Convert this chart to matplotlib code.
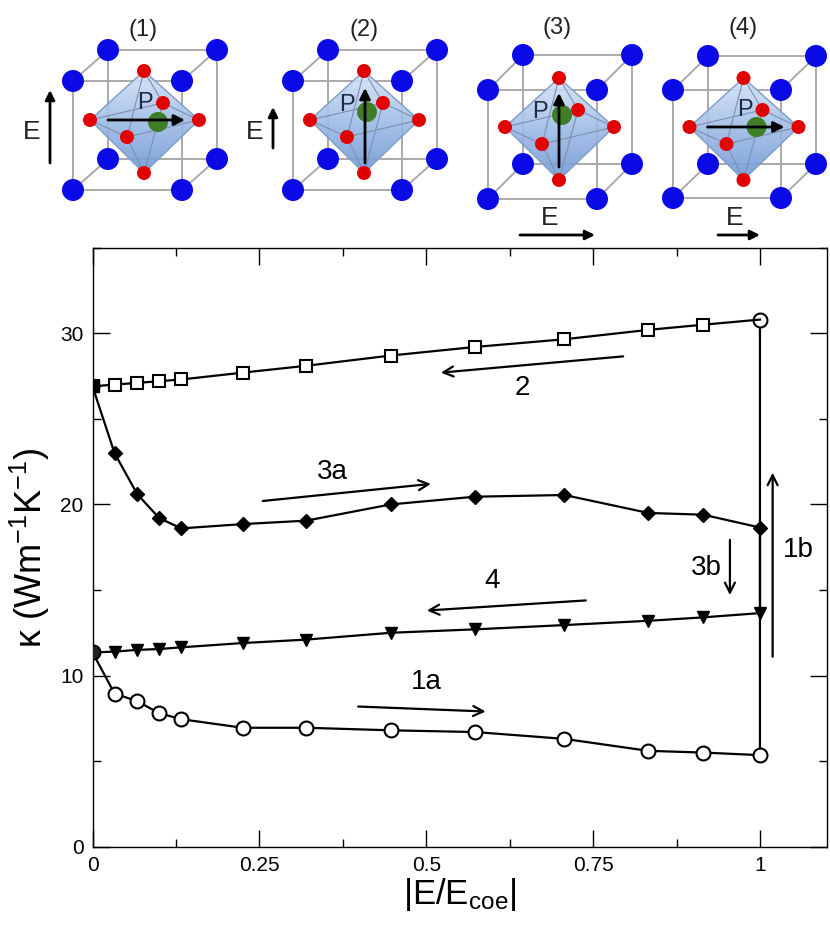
import numpy as np
import matplotlib
matplotlib.use("Agg")
import matplotlib.pyplot as plt
from matplotlib.patches import Circle, Polygon
from matplotlib.colors import LinearSegmentedColormap
from matplotlib.ticker import MultipleLocator, FixedLocator, FixedFormatter

plt.rcParams['font.family'] = ['Liberation Sans', 'DejaVu Sans']
plt.rcParams['mathtext.fontset'] = 'custom'
plt.rcParams['mathtext.rm'] = 'Liberation Sans'
plt.rcParams['mathtext.it'] = 'Liberation Sans:italic'
plt.rcParams['mathtext.default'] = 'regular'

# ---------------- data ----------------
e_ratio = [0.0, 0.033, 0.067, 0.1, 0.133, 0.225, 0.32, 0.447, 0.573, 0.707, 0.833, 0.915, 1.0]
kappa_1a = [11.35, 8.95, 8.5, 7.8, 7.45, 6.95, 6.95, 6.8, 6.7, 6.3, 5.6, 5.5, 5.35]
kappa_1b_top = 30.8
kappa_2 = [26.9, 27.0, 27.1, 27.2, 27.3, 27.7, 28.1, 28.7, 29.2, 29.65, 30.2, 30.5, 30.8]
kappa_3a = [26.9, 23.0, 20.6, 19.2, 18.6, 18.85, 19.05, 20.0, 20.45, 20.55, 19.5, 19.4, 18.65]
kappa_4 = [11.35, 11.4, 11.5, 11.55, 11.65, 11.9, 12.1, 12.5, 12.7, 12.95, 13.2, 13.4, 13.65]

x_ticks = [0, 0.25, 0.5, 0.75, 1.0]
x_ticklabels = ['0', '0.25', '0.5', '0.75', '1']
y_ticks = [0, 10, 20, 30]
y_ticklabels = ['0', '10', '20', '30']

# annotation arrows: (label, text pos, arrow start, arrow end)
arrows = [
    ('2',  (0.644, 26.8), (0.795, 28.65), (0.522, 27.7)),
    ('3a', (0.359, 21.9), (0.255, 20.2), (0.507, 21.2)),
    ('4',  (0.598, 15.5), (0.739, 14.39), (0.501, 13.8)),
    ('1a', (0.500, 9.65), (0.398, 8.19), (0.589, 7.9)),
    ('3b', (0.919, 16.3), (0.955, 17.93), (0.955, 14.7)),
    ('1b', (1.057, 17.35), (1.019, 11.1), (1.019, 21.85)),
]

fig = plt.figure(figsize=(8.3, 9.25), dpi=100)

# ---------------- top illustration (pixel-like coords) ----------------
axi = fig.add_axes([0, 0, 1, 1])
axi.set_xlim(0, 830)
axi.set_ylim(925, 0)
axi.axis('off')

cmap_oct = LinearSegmentedColormap.from_list('oct', ['#d6e4f7', '#9dbbe6', '#6e98d4'])

cubes = [
    dict(f=(73, 81), s=109, o=(35, -31), label='(1)', lab=(143, 30), p=((-37, 0), (40, 0)),
         g=(13, 2), pl=(0, -17), e=((50, 163), (50, 90)), el=(32, 132)),
    dict(f=(293, 81), s=109, o=(35, -31), label='(2)', lab=(364, 30), p=((0, 43), (0, -32)),
         g=(2, -8), pl=(-18, -15), e=((273, 148), (273, 107)), el=(255, 132)),
    dict(f=(488, 90), s=109, o=(35, -35), label='(3)', lab=(557, 28), p=((-1, 40), (-1, -34)),
         g=(2, -12), pl=(-20, -15), e=((520, 235), (595, 235)), el=(550, 218)),
    dict(f=(673, 90), s=108, o=(35, -34), label='(4)', lab=(743, 28), p=((-37, 0), (40, 0)),
         g=(12, 0), pl=(0, -17), e=((718, 235), (760, 235)), el=(735, 218)),
]

for cb in cubes:
    fx, fy = cb['f']
    s = cb['s']
    ox, oy = cb['o']
    front = [(fx, fy), (fx + s, fy), (fx + s, fy + s), (fx, fy + s)]
    back = [(x + ox, y + oy) for x, y in front]
    lc = '#a9a9a9'
    for sq in (back, front):
        xs = [p[0] for p in sq] + [sq[0][0]]
        ys = [p[1] for p in sq] + [sq[0][1]]
        axi.plot(xs, ys, color=lc, lw=1.4, zorder=1)
    for a, b in zip(front, back):
        axi.plot([a[0], b[0]], [a[1], b[1]], color=lc, lw=1.4, zorder=1)
    cx = fx + s / 2 + ox / 2
    cy = fy + s / 2 + oy / 2
    top = (cx - 1, cy - 49)
    bot = (cx - 1, cy + 53)
    left = (cx - 55, cy)
    right = (cx + 54, cy)
    fr = (cx - 18, cy + 17)
    bk = (cx + 18, cy - 17)
    poly = Polygon([top, right, bot, left], closed=True, facecolor='none',
                   edgecolor='#7f9cc6', lw=1.0, zorder=3)
    axi.add_patch(poly)
    grad = np.linspace(0, 1, 200).reshape(-1, 1)
    im = axi.imshow(grad, cmap=cmap_oct, extent=(left[0], right[0], bot[1], top[1]),
                    origin='upper', aspect='auto', alpha=0.9, zorder=2)
    im.set_clip_path(poly)
    for a, b in [(top, fr), (top, bk), (bot, fr), (bot, bk), (left, fr), (fr, right),
                 (right, bk), (bk, left)]:
        axi.plot([a[0], b[0]], [a[1], b[1]], color='#7d8fae', lw=0.8, zorder=4)
    # atoms
    for (x, y) in [top, bot, left, right, fr, bk]:
        axi.add_patch(Circle((x, y), 7, facecolor='#e00000', edgecolor='none', zorder=6))
    gx, gy = cb['g']
    axi.add_patch(Circle((cx + gx, cy + gy), 10, facecolor='#3f7d26', edgecolor='none', zorder=6))
    for (x, y) in front + back:
        axi.add_patch(Circle((x, y), 11, facecolor='#0a0ae6', edgecolor='none', zorder=7))
    (p0x, p0y), (p1x, p1y) = cb['p']
    axi.annotate('', xy=(cx + p1x, cy + p1y), xytext=(cx + p0x, cy + p0y),
                 arrowprops=dict(arrowstyle='-|>', lw=2, color='black', mutation_scale=16,
                                 shrinkA=0, shrinkB=0), zorder=8)
    plx, ply = cb['pl']
    axi.text(cx + plx, cy + ply, 'P', fontsize=17, color='#1c2a48', ha='center', va='center', zorder=8)
    axi.text(cb['lab'][0], cb['lab'][1], cb['label'], fontsize=17, color='#222222',
             ha='center', va='center')
    e0, e1 = cb['e']
    axi.annotate('', xy=e1, xytext=e0,
                 arrowprops=dict(arrowstyle='-|>', lw=2, color='black', mutation_scale=14,
                                 shrinkA=0, shrinkB=0))
    axi.text(cb['el'][0], cb['el'][1], 'E', fontsize=19, color='#222222', ha='center', va='center')

# ---------------- main plot ----------------
ax = fig.add_axes([92.5 / 830, 1 - 846.7 / 925, (826.7 - 92.5) / 830, (846.7 - 247.7) / 925])
ax.set_xlim(0, 1.1)
ax.set_ylim(0, 35)

lw = 1.6
mew = 1.5
# 1a + 1b
x1 = e_ratio + [e_ratio[-1]]
k1 = kappa_1a + [kappa_1b_top]
ax.plot(x1, k1, color='black', lw=lw, marker='o', ms=10, mfc='white', mec='black', mew=mew, zorder=3)
# 2
ax.plot(e_ratio, kappa_2, color='black', lw=lw, marker='s', ms=8, mfc='white', mec='black',
        mew=mew, markevery=slice(0, len(e_ratio) - 1), zorder=3)
# 3a
ax.plot(e_ratio, kappa_3a, color='black', lw=lw, marker='D', ms=7, mfc='black', mec='black', zorder=4)
# 4
ax.plot(e_ratio, kappa_4, color='black', lw=lw, marker='v', ms=9, mfc='black', mec='black',
        markevery=slice(1, None), zorder=4)
# 3b vertical segment
ax.plot([e_ratio[-1], e_ratio[-1]], [kappa_3a[-1], kappa_4[-1]], color='black', lw=lw, zorder=3)
# filled start points
ax.plot([e_ratio[0]], [kappa_2[0]], marker='s', ms=8, mfc='black', mec='black', ls='none', zorder=5)
ax.plot([e_ratio[0]], [kappa_1a[0]], marker='o', ms=10, mfc='#222222', mec='black', ls='none', zorder=5)

for lab, tpos, a0, a1 in arrows:
    ax.annotate('', xy=a1, xytext=a0,
                arrowprops=dict(arrowstyle='->', lw=1.6, color='black', mutation_scale=18,
                                shrinkA=0, shrinkB=0))
    ax.text(tpos[0], tpos[1], lab, fontsize=20, ha='center', va='center')

ax.xaxis.set_major_locator(FixedLocator(x_ticks))
ax.xaxis.set_major_formatter(FixedFormatter(x_ticklabels))
ax.xaxis.set_minor_locator(MultipleLocator(0.125))
ax.yaxis.set_major_locator(FixedLocator(y_ticks))
ax.yaxis.set_major_formatter(FixedFormatter(y_ticklabels))
ax.yaxis.set_minor_locator(MultipleLocator(5))
ax.tick_params(which='both', direction='in', top=True, right=True, width=1.0)
ax.tick_params(which='major', length=12, labelsize=15, pad=6.5)
ax.tick_params(which='minor', length=6)
for sp in ax.spines.values():
    sp.set_linewidth(1.0)

ax.set_xlabel('|E/E$_{coe}$|', fontsize=25, labelpad=1)
ax.set_ylabel('κ (Wm$^{-1}$K$^{-1}$)', fontsize=26, labelpad=6)

fig.savefig('out.png', dpi=100)
